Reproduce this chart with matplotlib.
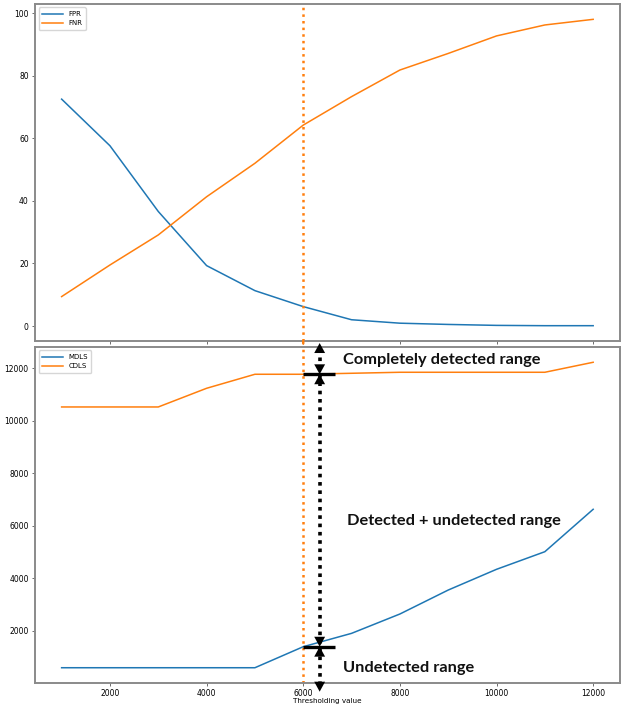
import numpy as np
import matplotlib
matplotlib.use("Agg")
import matplotlib.pyplot as plt
from matplotlib.patches import ConnectionPatch

# -----------------------------
# data
# -----------------------------
thresholds = [1000, 2000, 3000, 4000, 5000, 6000, 7000, 8000, 9000, 10000, 11000, 12000]

fpr = [72.5, 57.6, 36.6, 19.3, 11.3, 6.2, 2.0, 0.9, 0.5, 0.2, 0.1, 0.1]
fnr = [9.4, 19.5, 29.1, 41.3, 52.0, 64.2, 73.3, 81.8, 87.1, 92.7, 96.2, 98.0]

mdls = [590, 590, 590, 590, 590, 1391, 1900, 2637, 3550, 4340, 5011, 6627]
cdls = [10526, 10526, 10526, 11238, 11772, 11772, 11810, 11848, 11848, 11848, 11848, 12229]

chosen = 6000
labels_text = ["Completely detected range", "Detected + undetected range", "Undetected range"]

# -----------------------------
# figure
# -----------------------------
plt.rcParams["font.size"] = 5.5
fig = plt.figure(figsize=(6.26, 7.05), dpi=100)
ax1 = fig.add_axes([0.056, 0.5163, 0.934, 0.478])
ax2 = fig.add_axes([0.056, 0.0312, 0.934, 0.4766], sharex=ax1)

spine_col = "#8a8a8a"
for ax in (ax1, ax2):
    for s in ax.spines.values():
        s.set_color(spine_col)
        s.set_linewidth(1.4)
    ax.tick_params(labelsize=5.5, length=2.5, width=0.6, color="#555555", pad=2)

# top panel: error rates
ax1.plot(thresholds, fpr, label="FPR", lw=1.1)
ax1.plot(thresholds, fnr, label="FNR", lw=1.1)
ax1.legend(loc="upper left", fontsize=5, handlelength=3, borderpad=0.5)
ax1.set_yticks([0, 20, 40, 60, 80, 100])
plt.setp(ax1.get_xticklabels(), visible=False)

# bottom panel: detection limits
ax2.plot(thresholds, mdls, label="MDLS", lw=1.1)
ax2.plot(thresholds, cdls, label="CDLS", lw=1.1)
ax2.legend(loc="upper left", fontsize=5, handlelength=3, borderpad=0.5)
ax2.set_xticks([2000, 4000, 6000, 8000, 10000, 12000])
ax2.set_xlabel("Thresholding value", fontsize=5.2, labelpad=0)

# keep the data limits, annotations must not change them
y_lo, y_hi = ax2.get_ylim()
x_lo, x_hi = ax2.get_xlim()

# dotted orange line at the chosen threshold, across both panels
for ax in (ax1, ax2):
    ax.axvline(chosen, color="C1", ls=":", lw=1.8)
y1lo = ax1.get_ylim()[0]
con = ConnectionPatch(xyA=(chosen, y1lo), coordsA=ax1.transData,
                      xyB=(chosen, y_hi), coordsB=ax2.transData,
                      color="C1", ls=":", lw=1.8)
fig.add_artist(con)

# range annotations
i = thresholds.index(chosen)
c_top = cdls[i]
m_bot = mdls[i]
ax_x = chosen + 340
top_end = y_hi + 150
bot_end = y_lo - 330

# horizontal bars at the two limits
for yv in (c_top, m_bot):
    ax2.plot([chosen, chosen + 650], [yv, yv], color="k", lw=2.4, clip_on=False,
             solid_capstyle="butt")

# dotted vertical line
ax2.plot([ax_x, ax_x], [bot_end + 250, top_end - 200], color="k", ls=(0, (1, 1.3)),
         lw=2.6, clip_on=False)


def head(tip, pointing_up):
    off = -400 if pointing_up else 400
    ax2.annotate("", xy=(ax_x, tip), xytext=(ax_x, tip + off),
                 arrowprops=dict(arrowstyle="-|>,head_length=0.55,head_width=0.3",
                                 color="k", lw=0.01, shrinkA=0, shrinkB=0,
                                 mutation_scale=13),
                 annotation_clip=False)


head(top_end, True)
head(c_top, False)
head(c_top, True)
head(m_bot, False)
head(m_bot, True)
head(bot_end, False)

txt_kw = dict(fontsize=11.8, fontweight="bold", family=["Lato", "DejaVu Sans"],
              ha="left", va="center", color="#111111")
ax2.text(6820, 12317, labels_text[0], **txt_kw)
ax2.text(6900, 6181, labels_text[1], **txt_kw)
ax2.text(6820, 579, labels_text[2], **txt_kw)

ax2.set_ylim(y_lo, y_hi)
ax2.set_xlim(x_lo, x_hi)

fig.savefig("out.png", dpi=100)
